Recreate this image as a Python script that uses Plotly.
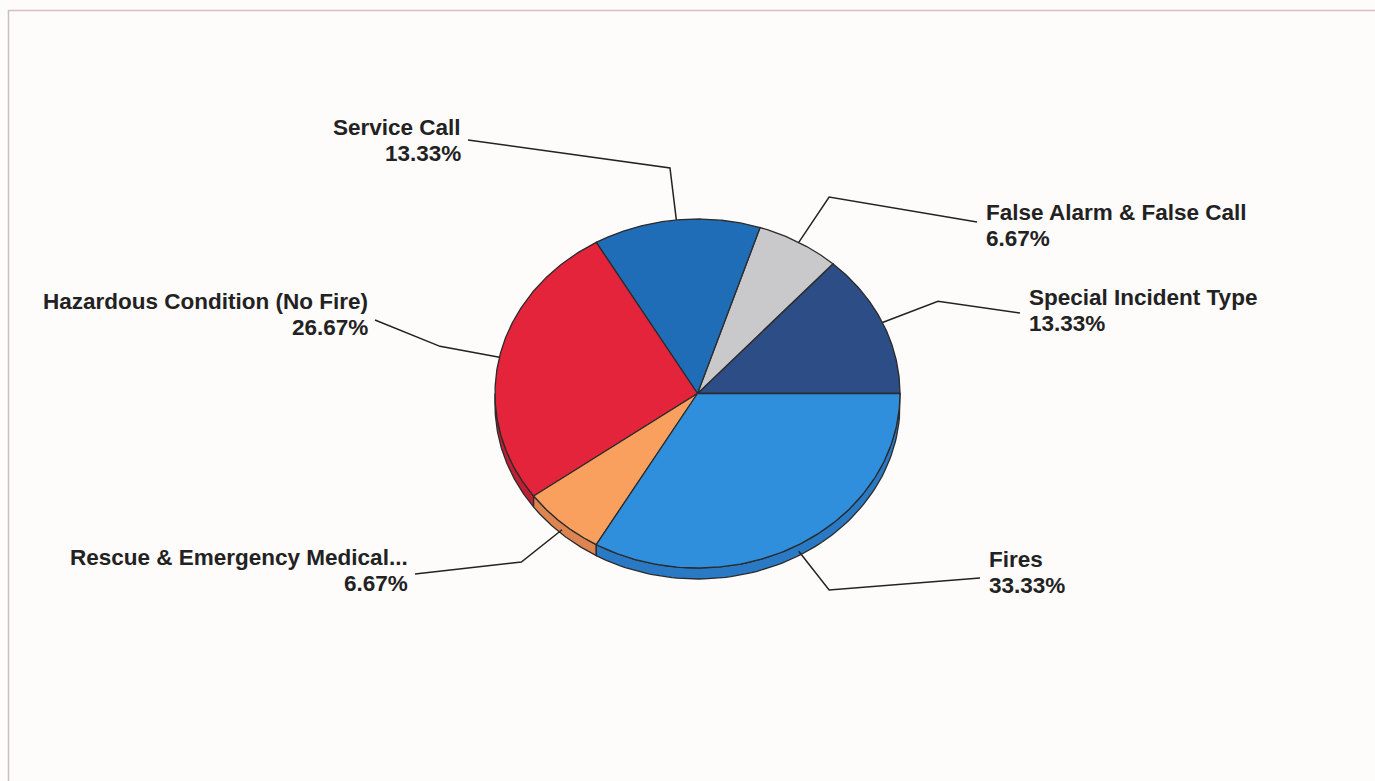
import numpy as np
import plotly.graph_objects as go

# Incident counts by type (drawn counter-clockwise starting at 3 o'clock)
categories = [
    "Special Incident Type",
    "False Alarm & False Call",
    "Service Call",
    "Hazardous Condition (No Fire)",
    "Rescue & Emergency Medical...",
    "Fires",
]
counts = [2, 1, 2, 4, 1, 5]

# Styling
top_colors = ["#2d4d86", "#c9c9cc", "#1f6db7", "#e3243a", "#f9a05f", "#2f8fdc"]
side_colors = ["#243f70", "#a9a9ad", "#195b99", "#c01f33", "#dd8550", "#2a79c4"]
edge_color = "#2b2b2b"
text_color = "#222222"

# Pie geometry in page pixels
W, H = 1375, 781
cx, cy = 697.5, 393.5
rx, ry = 202.5, 174.5
depth = 11
elbow_scale = 1.30

# Label placement: (leader end x, leader end y, side, text block centre y)
label_pos = [
    (1020, 313, "left", 310),
    (977, 222, "left", 225),
    (468, 140, "right", 140),
    (375, 320, "right", 314),
    (415, 574, "right", 570),
    (980, 578, "left", 572),
]
line_gap = 26
font = dict(family="Liberation Sans, Arial, sans-serif", size=22.5,
            color=text_color, weight="bold")

total = sum(counts)
fractions = [c / total for c in counts]
percents = [100 * f for f in fractions]
bounds = np.concatenate([[0.0], np.cumsum(fractions) * 360.0])


def pt(theta_deg, scale=1.0, dy=0.0):
    t = np.radians(theta_deg)
    return cx + scale * rx * np.cos(t), cy - scale * ry * np.sin(t) + dy


fig = go.Figure()

# Side band of the disc (visible lower half only)
for i in range(len(categories)):
    a1, a2 = bounds[i], bounds[i + 1]
    s1, s2 = max(a1, 180.0), min(a2, 360.0)
    if s2 <= s1:
        continue
    th = np.linspace(s1, s2, 80)
    xt, yt = pt(th)
    xb, yb = pt(th[::-1], dy=depth)
    xs = np.concatenate([xt, xb, xt[:1]])
    ys = np.concatenate([yt, yb, yt[:1]])
    fig.add_trace(go.Scatter(
        x=xs, y=ys, mode="lines", fill="toself",
        fillcolor=side_colors[i],
        line=dict(color=edge_color, width=1.3),
        hoverinfo="skip", showlegend=False,
    ))

# Top faces of the slices
for i in range(len(categories)):
    a1, a2 = bounds[i], bounds[i + 1]
    th = np.linspace(a1, a2, 160)
    xa, ya = pt(th)
    xs = np.concatenate([[cx], xa, [cx]])
    ys = np.concatenate([[cy], ya, [cy]])
    fig.add_trace(go.Scatter(
        x=xs, y=ys, mode="lines", fill="toself",
        fillcolor=top_colors[i],
        line=dict(color=edge_color, width=1.3),
        hoverinfo="skip", showlegend=False,
    ))

# Leader lines and two-line labels
annotations = []
for i, name in enumerate(categories):
    mid = (bounds[i] + bounds[i + 1]) / 2.0
    x0, y0 = pt(mid)
    if np.sin(np.radians(mid)) < 0:
        y0 += depth * 0.6
    x1, y1 = pt(mid, scale=elbow_scale)
    ex, ey, side, ty = label_pos[i]
    fig.add_trace(go.Scatter(
        x=[x0, x1, ex], y=[y0, y1, ey], mode="lines",
        line=dict(color=text_color, width=1.5),
        hoverinfo="skip", showlegend=False,
    ))
    tx = ex + (7 if side == "left" else -5)
    for txt, yy in ((name, ty - line_gap / 2), (f"{percents[i]:.2f}%", ty + line_gap / 2)):
        annotations.append(dict(
            x=tx, y=yy, xref="x", yref="y", text=txt, showarrow=False,
            xanchor=side, yanchor="middle", align=side, font=font,
        ))

fig.update_layout(
    width=W, height=H,
    margin=dict(l=0, r=0, t=0, b=0),
    paper_bgcolor="#fefbfb",
    plot_bgcolor="#fefbfb",
    xaxis=dict(range=[0, W], visible=False, fixedrange=True),
    yaxis=dict(range=[H, 0], visible=False, fixedrange=True),
    annotations=annotations,
    shapes=[
        dict(type="line", xref="x", yref="y", x0=8, y0=10.5, x1=W, y1=10.5,
             line=dict(color="#dcbcbc", width=1.5)),
        dict(type="line", xref="x", yref="y", x0=8.5, y0=10, x1=8.5, y1=H,
             line=dict(color="#c9c0c6", width=1.5)),
    ],
    showlegend=False,
)

fig.write_html("out.html")
